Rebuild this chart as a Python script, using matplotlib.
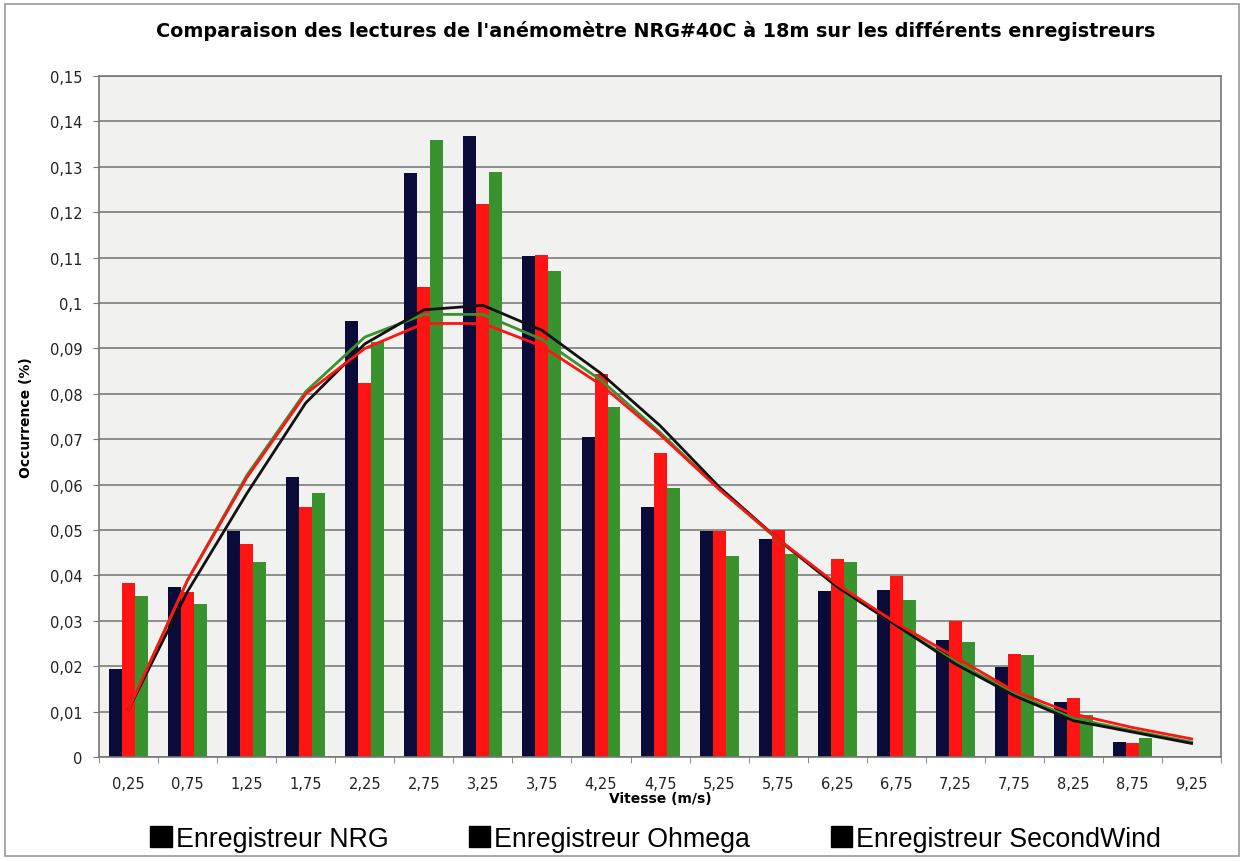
import matplotlib
matplotlib.use('Agg')
import matplotlib.pyplot as plt
from matplotlib.patches import Patch, Rectangle
import numpy as np

plt.rcParams['font.family'] = ['DejaVu Sans']

vitesse = ['0,25', '0,75', '1,25', '1,75', '2,25', '2,75', '3,25', '3,75', '4,25', '4,75',
           '5,25', '5,75', '6,25', '6,75', '7,25', '7,75', '8,25', '8,75', '9,25']

# bars (occurrence)
nrg = [0.0194, 0.0375, 0.0497, 0.0616, 0.0960, 0.1286, 0.1368, 0.1103, 0.0704, 0.0551,
       0.0497, 0.0480, 0.0365, 0.0368, 0.0258, 0.0199, 0.0121, 0.0034, 0.0]
ohmega = [0.0384, 0.0364, 0.0470, 0.0550, 0.0823, 0.1035, 0.1218, 0.1105, 0.0843, 0.0670,
          0.0497, 0.0501, 0.0437, 0.0398, 0.0300, 0.0227, 0.0130, 0.0030, 0.0]
secondwind = [0.0355, 0.0338, 0.0430, 0.0582, 0.0915, 0.1360, 0.1288, 0.1070, 0.0770, 0.0593,
              0.0442, 0.0448, 0.0430, 0.0347, 0.0254, 0.0225, 0.0093, 0.0041, 0.0]

# fitted curves
fit_nrg = [0.0105, 0.0365, 0.0580, 0.0780, 0.0910, 0.0985, 0.0995, 0.0940, 0.0845, 0.0730,
           0.0595, 0.0480, 0.0375, 0.0290, 0.0205, 0.0135, 0.0080, 0.0055, 0.0030]
fit_ohmega = [0.0105, 0.0390, 0.0615, 0.0800, 0.0900, 0.0955, 0.0955, 0.0905, 0.0820, 0.0710,
              0.0590, 0.0480, 0.0380, 0.0295, 0.0220, 0.0145, 0.0095, 0.0065, 0.0040]
fit_sw = [0.0105, 0.0390, 0.0620, 0.0805, 0.0925, 0.0975, 0.0975, 0.0920, 0.0830, 0.0715,
          0.0590, 0.0478, 0.0375, 0.0290, 0.0210, 0.0140, 0.0085, 0.0058, 0.0033]

c_nrg = '#0b0b3a'
c_ohm = '#ff1414'
c_sw = '#3a922e'

fig = plt.figure(figsize=(12.44, 8.62), dpi=100)
fig.patch.set_facecolor('white')
fig.patches.append(Rectangle((0.004, 0.006), 0.992, 0.988, transform=fig.transFigure,
                             fill=False, edgecolor='#9a9a9a', linewidth=1.2))

ax = fig.add_axes([0.0796, 0.1206, 0.902, 0.790])
ax.set_facecolor('#f1f1ef')

x = np.arange(len(vitesse))
w = 0.22
ax.bar(x - w, nrg, w, color=c_nrg, zorder=2)
ax.bar(x, ohmega, w, color=c_ohm, zorder=2)
ax.bar(x + w, secondwind, w, color=c_sw, zorder=2)

ax.plot(x, fit_sw, color=c_sw, linewidth=2, zorder=3)
ax.plot(x, fit_nrg, color='#111111', linewidth=2, zorder=4)
ax.plot(x, fit_ohmega, color=c_ohm, linewidth=2, zorder=5)

ax.set_xlim(-0.5, len(vitesse) - 0.5)
ax.set_ylim(0, 0.15)
yt = np.round(np.arange(0, 0.151, 0.01), 2)
ax.set_yticks(yt)
ax.set_yticklabels([('%g' % v).replace('.', ',') for v in yt], fontsize=10.5, color='#222222')
ax.set_xticks(x)
ax.set_xticklabels(vitesse, fontsize=10.5, color='#222222')
ax.set_xticks(np.arange(-0.5, len(vitesse), 1), minor=True)
ax.tick_params(axis='x', which='major', length=0, pad=14)
ax.tick_params(axis='x', which='minor', length=4, color='#777777')
ax.tick_params(axis='y', length=4, color='#777777', pad=8)
ax.yaxis.grid(True, color='#858585', linewidth=1.3, zorder=0)
ax.set_axisbelow(True)
for s in ax.spines.values():
    s.set_color('#777777')
    s.set_linewidth(1.2)

ax.set_xlabel('Vitesse (m/s)', fontsize=10, fontweight='bold', labelpad=0)
ax.set_ylabel('Occurrence (%)', fontsize=10, fontweight='bold', labelpad=12)
fig.text(0.527, 0.964, "Comparaison des lectures de l'anémomètre NRG#40C à 18m sur les différents enregistreurs",
         ha='center', va='center', fontsize=13.8, fontweight='bold')

handles = [Patch(facecolor='black', edgecolor='black', label='Enregistreur NRG'),
           Patch(facecolor='black', edgecolor='black', label='Enregistreur Ohmega'),
           Patch(facecolor='black', edgecolor='black', label='Enregistreur SecondWind')]
fig.legend(handles=handles, loc='center', bbox_to_anchor=(0.527, 0.026), ncol=3, frameon=False,
           prop={'family': 'Liberation Sans', 'size': 19.3}, handlelength=0.8, handleheight=0.8,
           handletextpad=0.15, columnspacing=3.0, borderpad=0)

fig.savefig('out.png', dpi=100)
